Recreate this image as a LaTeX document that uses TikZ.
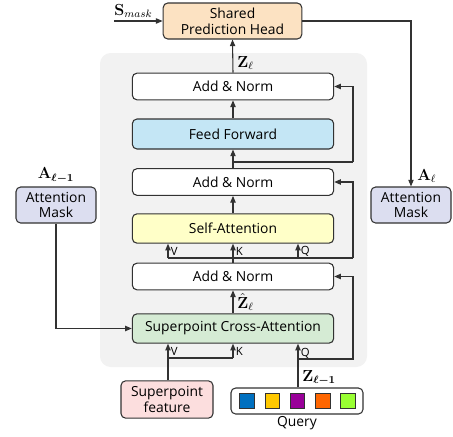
\documentclass[tikz,border=0pt]{standalone}
\usepackage[no-math]{fontspec}
\setmainfont{Open Sans}
\usepackage{bm}
\usetikzlibrary{arrows.meta}
\definecolor{headfill}{RGB}{252,226,194}
\definecolor{fffill}{RGB}{196,230,245}
\definecolor{safill}{RGB}{255,255,200}
\definecolor{cafill}{RGB}{213,235,212}
\definecolor{maskfill}{RGB}{220,222,240}
\definecolor{sffill}{RGB}{252,222,222}
\definecolor{bgfill}{RGB}{242,242,242}
\definecolor{edge}{RGB}{50,50,50}
\definecolor{qblue}{RGB}{0,112,192}
\definecolor{qyellow}{RGB}{255,200,0}
\definecolor{qpurple}{RGB}{153,0,153}
\definecolor{qorange}{RGB}{255,102,0}
\definecolor{qgreen}{RGB}{153,255,51}
\tikzset{
  box/.style={draw=edge, line width=0.8pt, rounded corners=3.5pt, align=center,
    font=\fontsize{10.4}{11.7}\selectfont, inner sep=0pt},
  wide/.style={box, minimum width=151pt, minimum height=20pt},
  side/.style={box, minimum width=60pt, minimum height=27pt, fill=maskfill},
  sq/.style={draw=edge, line width=0.7pt, minimum size=11pt, inner sep=0pt},
  arr/.style={draw=edge, line width=0.8pt, -{Triangle[length=5pt,width=4pt]}},
  ln/.style={draw=edge, line width=0.8pt},
  small/.style={font=\fontsize{8.5}{9}\selectfont, inner sep=0.5pt},
  lab/.style={inner sep=0pt, font=\fontsize{12}{13}\selectfont}
}
\begin{document}
\begin{tikzpicture}[x=0.75pt,y=-0.75pt]
\useasboundingbox (0,0) rectangle (453,436);
% background panel
\fill[bgfill, rounded corners=8pt] (100,53) rectangle (367,367);

% nodes
\node[box, fill=headfill, minimum width=104pt, minimum height=27pt] (head) at (232.5,21) {Shared\\Prediction Head};
\node[wide, fill=white] (an3) at (233,86.5) {Add \& Norm};
\node[wide, fill=fffill, minimum height=22.5pt] (ff) at (233,134) {Feed Forward};
\node[wide, fill=white] (an2) at (233,182) {Add \& Norm};
\node[wide, fill=safill, minimum height=22pt] (sa) at (233,228.5) {Self-Attention};
\node[wide, fill=white] (an1) at (233,276.5) {Add \& Norm};
\node[wide, fill=cafill, minimum height=22pt] (ca) at (233,328.5) {Superpoint Cross-Attention};
\node[side] (maskl) at (56,205) {Attention\\Mask};
\node[side] (maskr) at (411,205) {Attention\\Mask};
\node[box, fill=sffill, minimum width=69pt, minimum height=28pt] (sf) at (167,399.5) {Superpoint\\feature};
\node[box, fill=white, minimum width=99pt, minimum height=19.5pt] (query) at (297,401) {};
\node[sq, fill=qblue] (q1) at (247,401) {};
\node[sq, fill=qyellow] (q2) at (272.3,401) {};
\node[sq, fill=qpurple] (q3) at (297.6,401) {};
\node[sq, fill=qorange] (q4) at (322.9,401) {};
\node[sq, fill=qgreen] (q5) at (348.2,401) {};
\node[font=\fontsize{10.4}{11.7}\selectfont, anchor=north, inner sep=0pt] (qlab) at (297,416) {Query};

% coordinates
\coordinate (sin) at (114,21);
\coordinate (b3) at (233,162);
\coordinate (r3a) at (353,162);
\coordinate (r3b) at (353,86.5);
\coordinate (vsa) at (168,258);
\coordinate (qsa) at (298,258);
\coordinate (r2a) at (353,258);
\coordinate (r2b) at (353,182);
\coordinate (qca) at (298,359);
\coordinate (r1a) at (353,359);
\coordinate (r1b) at (353,276.5);
\coordinate (kca) at (168,358);
\coordinate (kca2) at (233,358);
\coordinate (mlb) at (56,328.5);
\coordinate (hr) at (411,21);

% connectors
\draw[arr] (sin) -- (head.west);
\draw[arr] (an3.north) -- (head.south);
\draw[arr] (ff.north) -- (an3.south);
\draw[arr] (an2.north) -- (ff.south);
\draw[ln] (b3) -- (r3a);
\draw[arr] (r3a) -- (r3b) -- (an3.east);
\draw[arr] (sa.north) -- (an2.south);
\draw[arr] (an1.north) -- (sa.south);
\draw[ln] (vsa) -- (r2a);
\draw[arr] (vsa) -- (vsa |- sa.south);
\draw[arr] (qsa) -- (qsa |- sa.south);
\draw[arr] (r2a) -- (r2b) -- (an2.east);
\draw[arr] (ca.north) -- (an1.south);
\draw[arr] (qca) -- (r1a) -- (r1b) -- (an1.east);
\draw[arr] (qca |- query.north) -- (qca |- ca.south);
\draw[arr] (sf.north -| kca) -- (kca |- ca.south);
\draw[ln] (kca) -- (kca2);
\draw[arr] (kca2) -- (kca2 |- ca.south);
\draw[arr] (maskl.south) -- (mlb) -- (ca.west);
\draw[arr] (head.east) -- (hr) -- (maskr.north);

% labels
\node[lab, anchor=south west] (lsm) at (114,18) {$\mathbf{S}_{mask}$};
\node[lab, anchor=west] (lz) at (237,63) {$\mathbf{Z}_\ell$};
\node[lab, anchor=west] (lzh) at (237,302) {$\hat{\mathbf{Z}}_\ell$};
\node[lab, anchor=south] (lal1) at (56,183) {$\mathbf{A}_{\bm{\ell-1}}$};
\node[lab, anchor=west] (lal) at (417,176) {$\mathbf{A}_\ell$};
\node[lab, anchor=west] (lzl1) at (302,378) {$\mathbf{Z}_{\bm{\ell-1}}$};
\node[small, anchor=west] (sv) at (170,251.5) {V};
\node[small, anchor=west] (sk) at (235,251.5) {K};
\node[small, anchor=west] (sq) at (300,251.5) {Q};
\node[small, anchor=west] (cv) at (170,351.5) {V};
\node[small, anchor=west] (ck) at (235,351.5) {K};
\node[small, anchor=west] (cq) at (300,353) {Q};
\end{tikzpicture}
\end{document}
